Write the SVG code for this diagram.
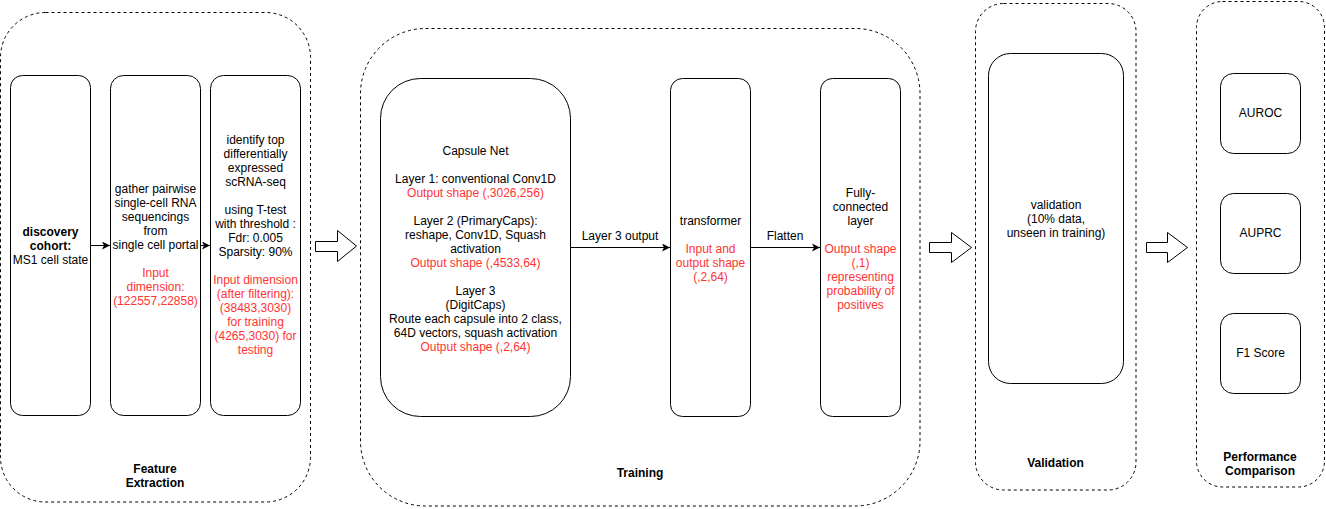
<svg xmlns="http://www.w3.org/2000/svg" width="1326" height="509" viewBox="0 0 1326 509">
<style>
text{font-family:"Liberation Sans",Arial,Helvetica,sans-serif;font-size:12px;fill:#000;text-anchor:middle}
.red{fill:#FF3333}
.b{font-weight:bold}
.grp{fill:none;stroke:#000;stroke-width:1;stroke-dasharray:3 3}
.box{fill:#fff;stroke:#000;stroke-width:1}
.edge{fill:none;stroke:#000;stroke-width:1}
.blk{fill:#fff;stroke:#000;stroke-width:1}
</style>
<defs>
<marker id="ah" viewBox="0 0 10 10" refX="10" refY="5" markerWidth="8" markerHeight="8" markerUnits="userSpaceOnUse" orient="auto">
<path d="M0,0 L10,5 L0,10 L2.5,5 Z" fill="#000"/>
</marker>
</defs>
<rect width="1326" height="509" fill="#fff"/>

<g id="group-feature">
<rect class="grp" x="0.5" y="12.5" width="310" height="489.5" rx="45" ry="45"/>
<text class="b"><tspan x="155" y="473">Feature</tspan><tspan x="155" y="487">Extraction</tspan></text>
</g>
<g id="group-training">
<rect class="grp" x="360.5" y="28.5" width="559.5" height="477.5" rx="65" ry="65"/>
<text class="b" x="640" y="477">Training</text>
</g>
<g id="group-validation">
<rect class="grp" x="975.5" y="3.5" width="160.5" height="486.5" rx="28" ry="28"/>
<text class="b" x="1055.5" y="467">Validation</text>
</g>
<g id="group-performance">
<rect class="grp" x="1196.5" y="1.5" width="128" height="485.5" rx="26" ry="26"/>
<text class="b"><tspan x="1260" y="461">Performance</tspan><tspan x="1260" y="475">Comparison</tspan></text>
</g>

<g id="node-discovery">
<rect class="box" x="10.5" y="75.5" width="80" height="340" rx="12" ry="12"/>
<text><tspan class="b" x="50.5" y="236">discovery</tspan><tspan class="b" x="50.5" y="250">cohort:</tspan><tspan x="50.5" y="264">MS1 cell state</tspan></text>
</g>
<g id="node-gather">
<rect class="box" x="110.5" y="75.5" width="90" height="340" rx="13" ry="13"/>
<text><tspan x="155.5" y="193">gather pairwise</tspan><tspan x="155.5" y="207">single-cell RNA</tspan><tspan x="155.5" y="221">sequencings</tspan><tspan x="155.5" y="235">from</tspan><tspan x="155.5" y="249">single cell portal</tspan><tspan class="red" x="155.5" y="277">Input</tspan><tspan class="red" x="155.5" y="291">dimension:</tspan><tspan class="red" x="155.5" y="305">(122557,22858)</tspan></text>
</g>
<g id="node-identify">
<rect class="box" x="210.5" y="75.5" width="90" height="340" rx="13" ry="13"/>
<text><tspan x="255.5" y="144">identify top</tspan><tspan x="255.5" y="158">differentially</tspan><tspan x="255.5" y="172">expressed</tspan><tspan x="255.5" y="186">scRNA-seq</tspan><tspan x="255.5" y="214">using T-test</tspan><tspan x="255.5" y="228">with threshold :</tspan><tspan x="255.5" y="242">Fdr: 0.005</tspan><tspan x="255.5" y="256">Sparsity: 90%</tspan><tspan class="red" x="255.5" y="284">Input dimension</tspan><tspan class="red" x="255.5" y="298">(after filtering):</tspan><tspan class="red" x="255.5" y="312">(38483,3030)</tspan><tspan class="red" x="255.5" y="326">for training</tspan><tspan class="red" x="255.5" y="340">(4265,3030) for</tspan><tspan class="red" x="255.5" y="354">testing</tspan></text>
</g>

<g id="node-capsule">
<rect class="box" x="380.5" y="78.5" width="190" height="338" rx="40" ry="40"/>
<text><tspan x="475.5" y="155">Capsule Net</tspan><tspan x="475.5" y="183">Layer 1: conventional Conv1D</tspan><tspan class="red" x="475.5" y="197">Output shape (,3026,256)</tspan><tspan x="475.5" y="225">Layer 2 (PrimaryCaps):</tspan><tspan x="475.5" y="239">reshape, Conv1D, Squash</tspan><tspan x="475.5" y="253">activation</tspan><tspan class="red" x="475.5" y="267">Output shape (,4533,64)</tspan><tspan x="475.5" y="295">Layer 3</tspan><tspan x="475.5" y="309">(DigitCaps)</tspan><tspan x="475.5" y="323">Route each capsule into 2 class,</tspan><tspan x="475.5" y="337">64D vectors, squash activation</tspan><tspan class="red" x="475.5" y="351">Output shape (,2,64)</tspan></text>
</g>
<g id="node-transformer">
<rect class="box" x="670.5" y="78.5" width="80" height="338" rx="12" ry="12"/>
<text><tspan x="710.5" y="225">transformer</tspan><tspan class="red" x="710.5" y="253">Input and</tspan><tspan class="red" x="710.5" y="267">output shape</tspan><tspan class="red" x="710.5" y="281">(,2,64)</tspan></text>
</g>
<g id="node-fc">
<rect class="box" x="820.5" y="78.5" width="80" height="338" rx="12" ry="12"/>
<text><tspan x="860.5" y="197">Fully-</tspan><tspan x="860.5" y="211">connected</tspan><tspan x="860.5" y="225">layer</tspan><tspan class="red" x="860.5" y="253">Output shape</tspan><tspan class="red" x="860.5" y="267">(,1)</tspan><tspan class="red" x="860.5" y="281">representing</tspan><tspan class="red" x="860.5" y="295">probability of</tspan><tspan class="red" x="860.5" y="309">positives</tspan></text>
</g>

<g id="node-validation">
<rect class="box" x="988.5" y="53.5" width="135" height="330" rx="22" ry="22"/>
<text><tspan x="1056" y="209">validation</tspan><tspan x="1056" y="223">(10% data,</tspan><tspan x="1056" y="237">unseen in training)</tspan></text>
</g>

<g id="node-auroc">
<rect class="box" x="1220.5" y="73.5" width="80" height="80" rx="13" ry="13"/>
<text x="1260.5" y="117">AUROC</text>
</g>
<g id="node-auprc">
<rect class="box" x="1220.5" y="193.5" width="80" height="80" rx="13" ry="13"/>
<text x="1260.5" y="237">AUPRC</text>
</g>
<g id="node-f1">
<rect class="box" x="1220.5" y="313.5" width="80" height="80" rx="13" ry="13"/>
<text x="1260.5" y="357">F1 Score</text>
</g>

<g id="connectors">
<path class="edge" d="M90.5,245.5 H110" marker-end="url(#ah)"/>
<path class="edge" d="M200.5,245.5 H210" marker-end="url(#ah)"/>
<path class="edge" d="M570.5,247.5 H670" marker-end="url(#ah)"/>
<text x="620" y="240">Layer 3 output</text>
<path class="edge" d="M750.5,247.5 H820" marker-end="url(#ah)"/>
<text x="785" y="240">Flatten</text>
<path class="blk" d="M315.5,241.5 H337.5 V230.5 L356.5,246 L337.5,261.5 V251.5 H315.5 Z"/>
<path class="blk" d="M929.5,242.5 H951.5 V232.5 L971.5,247.5 L951.5,262.5 V252.5 H929.5 Z"/>
<path class="blk" d="M1146.5,242.5 H1167.5 V232.5 L1187.5,247.5 L1167.5,262.5 V252.5 H1146.5 Z"/>
</g>
</svg>
